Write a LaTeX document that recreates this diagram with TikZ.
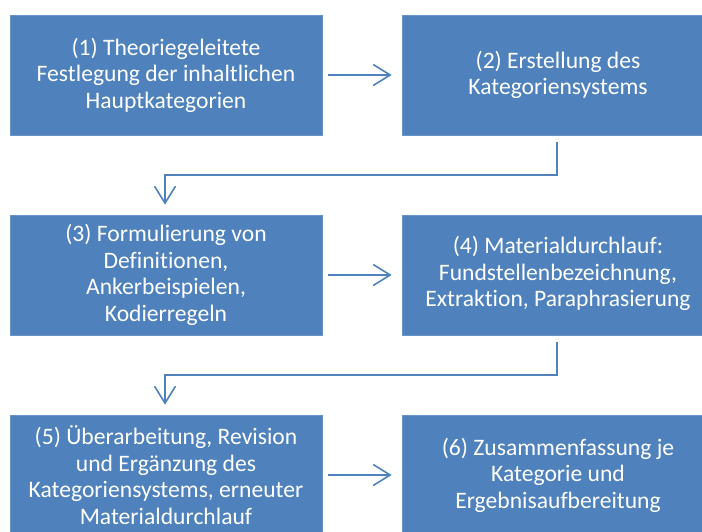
\documentclass[tikz,border=0pt]{standalone}
\usepackage{fontspec}
\setmainfont{Carlito}[Ligatures=NoCommon]
\usetikzlibrary{arrows.meta}
\definecolor{officeblue}{HTML}{4F81BD}
\tikzset{
  stepbox/.style={fill=officeblue, draw=officeblue!85!white, line width=0.6pt, minimum width=312pt, minimum height=120pt, inner sep=0pt, text=white, align=center, font=\fontsize{23.6}{26.5}\selectfont},
  flow/.style={draw=officeblue, line width=1.6pt, -{Straight Barb[length=17pt, width=21pt, line width=1.6pt]}}
}
\begin{document}
\begin{tikzpicture}[x=1pt, y=-1pt]
\useasboundingbox (0,0) rectangle (702,532);
\clip (0,0) rectangle (702,532);
\fill[white] (0,0) rectangle (702,532);
\node[stepbox] (b1) at (166,75) {(1) Theoriegeleitete\\Festlegung der inhaltlichen\\Hauptkategorien};
\node[stepbox] (b2) at (558,75) {(2) Erstellung des\\Kategoriensystems};
\node[stepbox] (b3) at (166,275) {(3) Formulierung von\\Definitionen,\\Ankerbeispielen,\\Kodierregeln};
\node[stepbox] (b4) at (558,275) {\raisebox{3pt}{\begin{tabular}{@{}c@{}}(4) Materialdurchlauf:\\Fundstellenbezeichnung,\\Extraktion, Paraphrasierung\end{tabular}}};
\node[stepbox] (b5) at (166,475) {(5) Überarbeitung, Revision\\und Ergänzung des\\Kategoriensystems, erneuter\\Materialdurchlauf};
\node[stepbox] (b6) at (558,475) {(6) Zusammenfassung je\\Kategorie und\\Ergebnisaufbereitung};
\draw[flow] ([xshift=6pt]b1.east) -- ([xshift=-10pt]b2.west);
\draw[flow] ([xshift=6pt]b3.east) -- ([xshift=-10pt]b4.west);
\draw[flow] ([xshift=6pt]b5.east) -- ([xshift=-10pt]b6.west);
\coordinate (e1) at (557,175);
\coordinate (e2) at (165,175);
\draw[flow] (557,142) -- (e1) -- (e2) -- ([yshift=10pt]b3.north -| e2);
\coordinate (f1) at (557,375);
\coordinate (f2) at (165,375);
\draw[flow] (557,342) -- (f1) -- (f2) -- ([yshift=10pt]b5.north -| f2);
\end{tikzpicture}
\end{document}
